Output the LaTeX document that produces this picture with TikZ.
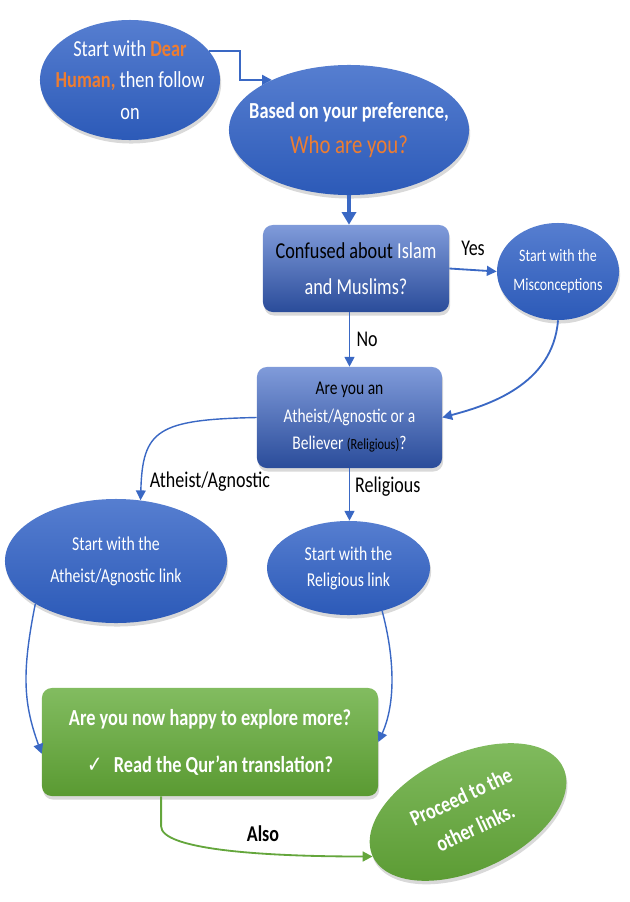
\documentclass[tikz,border=0pt]{standalone}
\usepackage{fontspec}
\setmainfont{Carlito}[FakeStretch=0.8]
\newfontfamily\tickfont{DejaVu Sans}[FakeStretch=0.8]
\usepackage{tikz}
\usetikzlibrary{shapes.geometric, arrows.meta, positioning, shadows}
\definecolor{ovalTop}{RGB}{86,126,208}
\definecolor{ovalBot}{RGB}{44,90,184}
\definecolor{boxTop}{RGB}{128,155,218}
\definecolor{boxBot}{RGB}{42,76,154}
\definecolor{leafTop}{RGB}{130,188,96}
\definecolor{leafBot}{RGB}{90,154,50}
\definecolor{linkBlue}{RGB}{58,104,196}
\definecolor{linkGreen}{RGB}{100,166,60}
\definecolor{accentOrange}{RGB}{237,125,49}

\tikzset{
  oval/.style={ellipse, inner sep=-20pt, align=center, text=white,
    top color=ovalTop, bottom color=ovalBot,
    drop shadow={opacity=0.3, shadow xshift=0.8pt, shadow yshift=-2.5pt}},
  qbox/.style={rectangle, rounded corners=7pt, inner sep=0pt, align=center, text=white,
    top color=boxTop, bottom color=boxBot,
    drop shadow={opacity=0.3, shadow xshift=0.8pt, shadow yshift=-2.5pt}},
  greenbox/.style={qbox, top color=leafTop, bottom color=leafBot},
  greenoval/.style={oval, top color=leafTop, bottom color=leafBot},
  flow/.style={draw=linkBlue, line width=1.3pt, -{Triangle[length=7pt, width=7pt]}},
  tag/.style={font=\fontsize{16}{19}\selectfont}
}

\begin{document}
\begin{tikzpicture}[x=0.025cm, y=-0.025cm]
    \useasboundingbox (0,0) rectangle (630,902);

    % Entry ovals
    \node[oval, minimum width=4.5cm, minimum height=3cm, font=\fontsize{16.3}{22.4}\selectfont] (start) at (130,80)
        {Start with \textcolor{accentOrange}{\bfseries Dear}\\ \textcolor{accentOrange}{\bfseries Human,} then follow\\ on};
    \node[oval, minimum width=6cm, minimum height=3.25cm, font=\fontsize{16.3}{25}\selectfont] (pref) at (349,130)
        {\textbf{Based on your preference,}\\ {\fontsize{18.5}{25}\selectfont\color{accentOrange}Who are you?}};

    % Questions
    \node[qbox, minimum width=4.65cm, minimum height=2.175cm, font=\fontsize{16.2}{25.6}\selectfont] (conf) at (356,268.5)
        {\textcolor{black}{Confused about} Islam\\ and Muslims?};
    \node[oval, minimum width=3.05cm, minimum height=2.425cm, font=\fontsize{12.4}{20.6}\selectfont] (misc) at (558,271.5)
        {Start with the\\ Misconceptions};
    \node[qbox, minimum width=4.625cm, minimum height=2.525cm, font=\fontsize{13.8}{19.6}\selectfont] (ask) at (349.5,417.5)
        {\textcolor{black}{Are you an}\\ Atheist/Agnostic or a\\ Believer \textcolor{black}{\fontsize{11}{19.6}\selectfont(Religious)}?};

    % Links
    \node[oval, minimum width=5.55cm, minimum height=3.1cm, font=\fontsize{14}{22.8}\selectfont] (athe) at (116,561)
        {Start with the\\ Atheist/Agnostic link};
    \node[oval, minimum width=4.075cm, minimum height=2.35cm, font=\fontsize{14}{18.5}\selectfont] (relig) at (348.5,568)
        {Start with the\\ Religious link};

    % Final steps
    \node[greenbox, minimum width=8.4cm, minimum height=2.7cm, font=\fontsize{16.3}{33.4}\selectfont\bfseries] (happy) at (210,742)
        {Are you now happy to explore more?\\ {\tickfont\mdseries ✓}\enspace Read the Qur’an translation?};
    \node[greenoval, rotate=25, minimum width=5.25cm, minimum height=2.9cm, font=\fontsize{16}{24}\selectfont\bfseries] (proceed) at (468,812)
        {Proceed to the\\ other links.};

    % Connectors
    \draw[flow, line width=1.6pt] (start.20) -- ++(31,0) |- (pref.147);
    \draw[flow, line width=3.5pt, -{Triangle[length=9pt, width=10pt]}] (pref.south) -- (pref.south |- conf.north);
    \draw[flow] (conf.east) -- (misc.west) node[tag, midway, above=6pt] (yes) {Yes};
    \draw[flow] (ask.north |- conf.south) -- (ask.north) node[tag, midway, right=1pt] (no) {No};
    \draw[flow] (misc.south) .. controls +(-5,65) and +(45,-12) .. (ask.east);
    \draw[flow, line width=1pt] (ask.west) .. controls +(-100,2) and +(2,-70) .. (athe.68);
    \draw[flow] (ask.south) -- (ask.south |- relig.north) node[tag, pos=0.35, right=0pt] (religTag) {Religious};
    \draw[flow, line width=1pt] (athe.208) .. controls +(-14,70) and +(-18,-50) .. (happy.184);
    \draw[flow, line width=1pt] (relig.-52) .. controls +(12,45) and +(18,-40) .. (happy.east);
    \draw[flow, draw=linkGreen] (happy.228) -- ++(0,30) .. controls +(0,22) and +(-120,0) .. (proceed.180);

    % Labels
    \node[tag] (atheTag) at (210,482) {Atheist/Agnostic};
    \node[tag, font=\fontsize{16}{19}\selectfont\bfseries] (also) at (263,834) {Also};
\end{tikzpicture}
\end{document}
